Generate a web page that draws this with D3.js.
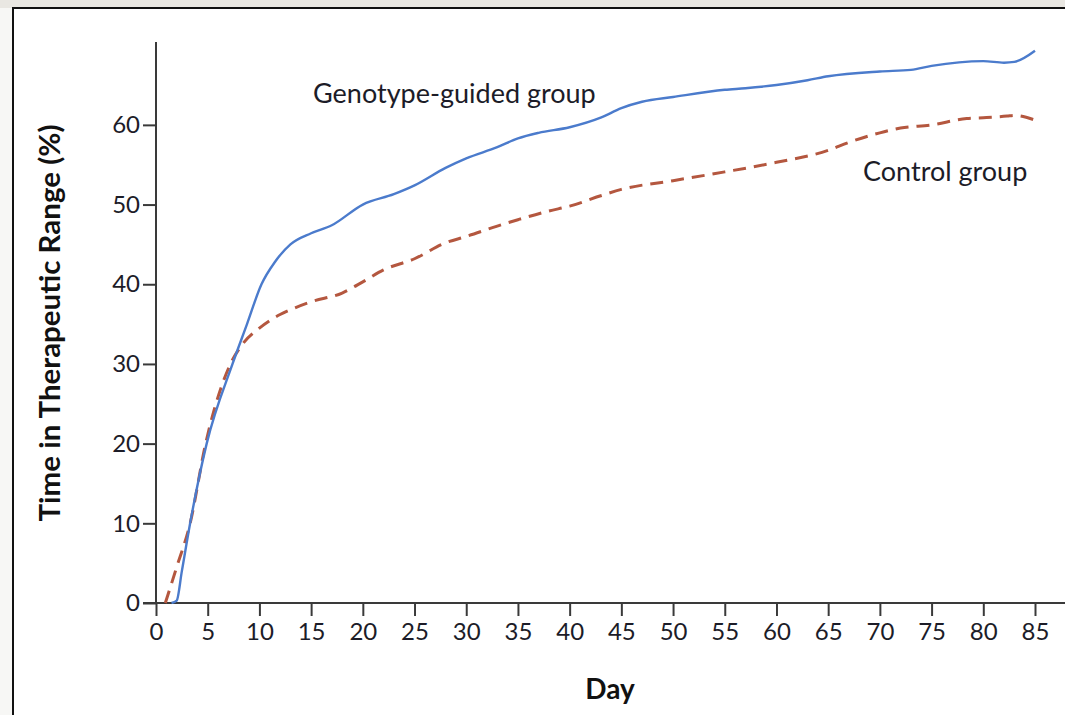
<!DOCTYPE html>
<html><head><meta charset="utf-8">
<script src="https://cdn.jsdelivr.net/npm/d3@7"></script>
<style>html,body{margin:0;padding:0;background:#f7f7f5;overflow:hidden}</style>
</head><body>
<svg id="c" width="1065" height="715"></svg>
<script>
const xTicks = [0,5,10,15,20,25,30,35,40,45,50,55,60,65,70,75,80,85];
const yTicks = [0,10,20,30,40,50,60];
const genotypeDays = [1.5,2,2.5,3.3,4.9,7.4,8.8,10.2,11.5,13,15,17,20,23,25,28,30,33,35,37,40,43,45,47,50,55,57,60,63,65,70,73,75,80,82,83,85];
const genotypeVals = [0,0.3,4,10,20,30,35,40,42.8,45,46.4,47.4,50,51.3,52.4,54.6,55.8,57.2,58.3,59,59.7,60.9,62.1,62.9,63.5,64.4,64.6,65,65.6,66.1,66.7,66.9,67.4,68,67.8,67.9,69.3];
const controlDays = [0.9,2,3.3,4.8,7.2,8.5,10,12,13,15,18,20,22,25,28,30,33,35,38,40,43,45,50,55,60,65,67,70,72,75,78.4,80,82.3,83,85];
const controlVals = [0,4.5,10,20,30,32.7,34.5,36.2,36.8,37.8,38.9,40.3,41.8,43.2,45.2,46,47.3,48.1,49.2,49.8,51.1,51.9,53,54.1,55.3,56.8,57.8,59,59.6,60,60.8,60.9,61.1,61.2,60.6];
const labels = {genotype:"Genotype-guided group", control:"Control group", x:"Day", y:"Time in Therapeutic Range (%)"};

const svg = d3.select("#c");
const font = "Lato, 'Open Sans', sans-serif";
svg.append("rect").attr("x",0).attr("y",0).attr("width",1065).attr("height",8).attr("fill","#e9e7e2");
svg.append("rect").attr("x",13).attr("y",8).attr("width",1070).attr("height",720).attr("fill","#fff").attr("stroke","#111").attr("stroke-width",2);

const x = d3.scaleLinear().domain([0,85]).range([156,1035]);
const y = d3.scaleLinear().domain([0,70.4]).range([603,42]);

const axisColor = "#3a3a3a";
const ya = svg.append("g").attr("transform","translate(156,0)")
  .call(d3.axisLeft(y).tickValues(yTicks).tickSize(13).tickPadding(3).tickFormat(d3.format("d")));
ya.select(".domain").remove();
ya.selectAll(".tick line").attr("stroke",axisColor).attr("stroke-width",2);
ya.selectAll(".tick text").attr("font-family",font).attr("font-size",24).attr("fill","#1c1c28");
svg.append("line").attr("x1",156).attr("x2",156).attr("y1",y(70.4)).attr("y2",y(0)+1).attr("stroke",axisColor).attr("stroke-width",2);
const xa = svg.append("g").attr("transform","translate(0,603)")
  .call(d3.axisBottom(x).tickValues(xTicks).tickSize(13).tickPadding(7).tickFormat(d3.format("d")));
xa.select(".domain").remove();
xa.selectAll(".tick line").attr("stroke",axisColor).attr("stroke-width",2);
xa.selectAll(".tick text").attr("font-family",font).attr("font-size",24).attr("fill","#1c1c28");
svg.append("line").attr("x1",143).attr("x2",1065).attr("y1",603).attr("y2",603).attr("stroke",axisColor).attr("stroke-width",2);

const line = d3.line().x(d=>x(d[0])).y(d=>y(d[1])).curve(d3.curveMonotoneX);
svg.append("path").datum(d3.zip(controlDays,controlVals)).attr("d",line)
  .attr("fill","none").attr("stroke","#b4573f").attr("stroke-width",3).attr("stroke-dasharray","13,8");
svg.append("path").datum(d3.zip(genotypeDays,genotypeVals)).attr("d",line)
  .attr("fill","none").attr("stroke","#4b7bcc").attr("stroke-width",2.4);

svg.append("text").attr("x",313).attr("y",103).text(labels.genotype)
  .attr("font-family",font).attr("font-size",27).attr("fill","#1c1c28");
svg.append("text").attr("x",863).attr("y",181).text(labels.control)
  .attr("font-family",font).attr("font-size",27).attr("fill","#1c1c28");
svg.append("text").attr("x",610).attr("y",699).attr("text-anchor","middle").text(labels.x)
  .attr("font-family",font).attr("font-size",28).attr("font-weight","bold").attr("fill","#111");
svg.append("text").attr("transform","translate(60,323) rotate(-90)").attr("text-anchor","middle").text(labels.y)
  .attr("font-family",font).attr("font-size",28).attr("font-weight","bold").attr("fill","#111")
  .attr("textLength",397).attr("lengthAdjust","spacingAndGlyphs");
</script>
</body></html>
